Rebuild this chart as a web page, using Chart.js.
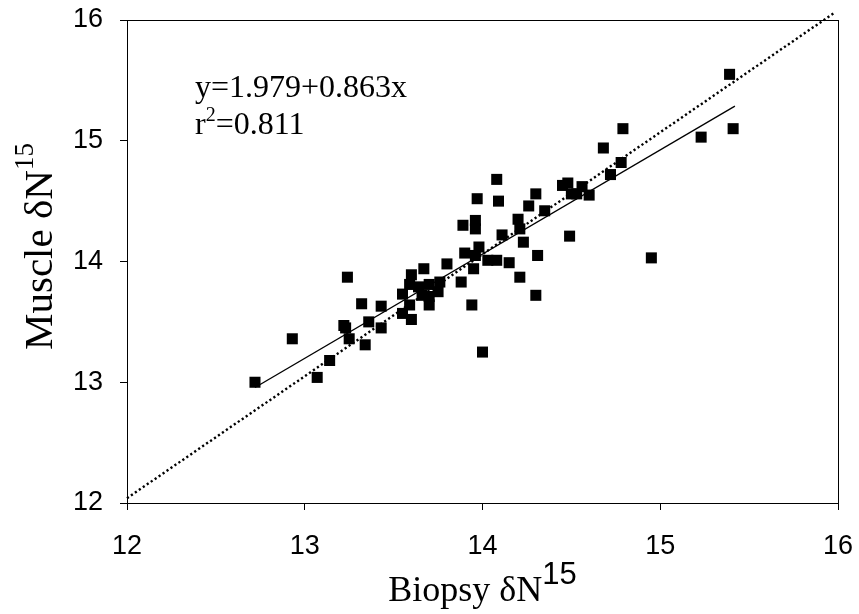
<!DOCTYPE html>
<html>
<head>
<meta charset="utf-8">
<script src="https://cdn.jsdelivr.net/npm/chart.js@4.4.1/dist/chart.umd.min.js"></script>
<style>
  html, body { margin: 0; padding: 0; background: #fff; }
  #chart { display: block; }
</style>
</head>
<body>
<canvas id="chart" width="859" height="614"></canvas>
<script>
'use strict';

// Biopsy vs muscle delta N15
var biopsy = [
  12.72, 12.93, 13.07, 13.14, 13.24, 13.22, 13.23, 13.25, 13.32, 13.36,
  13.34, 13.43, 13.43, 13.55, 13.55, 13.60, 13.60, 13.67, 13.59, 13.64,
  13.70, 13.76, 13.75, 13.70, 13.66, 13.70, 13.59, 13.80, 13.88, 13.94,
  13.89, 13.96, 13.96, 13.97, 14.08, 14.09, 13.90, 13.98, 13.96, 13.95,
  14.03, 14.08, 14.15, 14.11, 14.21, 14.23, 14.20, 14.21, 14.26, 14.30,
  14.31, 14.30, 14.35, 14.00, 14.45, 14.48, 14.50, 14.53, 14.56, 14.60,
  14.49, 14.68, 14.72, 14.78, 14.79, 15.23, 15.39, 15.41, 14.95
];
var muscle = [
  13.00, 13.36, 13.04, 13.18, 13.87, 13.47, 13.45, 13.36, 13.65, 13.50,
  13.31, 13.63, 13.45, 13.73, 13.57, 13.52, 13.89, 13.94, 13.81, 13.79,
  13.81, 13.83, 13.75, 13.71, 13.72, 13.64, 13.64, 13.98, 13.83, 13.64,
  14.30, 14.34, 14.27, 14.52, 14.68, 14.50, 14.07, 14.12, 14.05, 13.94,
  14.01, 14.01, 13.99, 14.22, 13.87, 14.16, 14.35, 14.27, 14.46, 14.56,
  14.05, 13.72, 14.42, 13.25, 14.63, 14.65, 14.56, 14.56, 14.62, 14.55,
  14.21, 14.94, 14.72, 14.82, 15.10, 15.03, 15.55, 15.10, 14.03
];

// regression y = 1.979 + 0.863x over the data range, and the 1:1 reference line
var intercept = 1.979;
var slope = 0.863;
var fitRange = [12.72, 15.42];
var oneToOne = [[12.0, 12.04], [15.98, 16.06]];
var ticks = [12, 13, 14, 15, 16];

var points = biopsy.map(function(b, i) { return {x: b, y: muscle[i]}; });
var fitLine = fitRange.map(function(x) { return {x: x, y: intercept + slope * x}; });
var refLine = oneToOne.map(function(p) { return {x: p[0], y: p[1]}; });

var serif = '"Liberation Serif", "Times New Roman", serif';
var sans = '"Liberation Sans", Arial, sans-serif';

function drawSup(ctx, x, y, base, sup, baseFont, supFont, rise) {
  ctx.font = baseFont;
  ctx.fillText(base, x, y);
  var w = ctx.measureText(base).width;
  ctx.font = supFont;
  ctx.fillText(sup, x + w, y - rise);
  return w + ctx.measureText(sup).width;
}

var decor = {
  id: 'decor',
  afterDraw: function(chart) {
    var ctx = chart.ctx;
    var a = chart.chartArea;
    ctx.save();
    // frame
    ctx.strokeStyle = '#000';
    ctx.lineWidth = 1;
    ctx.strokeRect(Math.round(a.left) + 0.5, Math.round(a.top) + 0.5,
      Math.round(a.right - a.left), Math.round(a.bottom - a.top));

    ctx.fillStyle = '#000';
    ctx.textBaseline = 'alphabetic';
    ctx.textAlign = 'left';

    // equation
    var ex = a.left + 68;
    ctx.font = '32px ' + serif;
    ctx.fillText('y=1.979+0.863x', ex, a.top + 77);
    var rw = drawSup(ctx, ex, a.top + 114, 'r', '2', '32px ' + serif, '20px ' + serif, 13);
    ctx.font = '32px ' + serif;
    ctx.fillText('=0.811', ex + rw, a.top + 114);

    // x title
    var cx = (a.left + a.right) / 2;
    ctx.font = '36px ' + serif;
    var bw = ctx.measureText('Biopsy \u03b4N').width;
    ctx.font = '31px ' + sans;
    var tw = bw + ctx.measureText('15').width;
    drawSup(ctx, cx - tw / 2, 601, 'Biopsy \u03b4N', '15', '36px ' + serif, '31px ' + sans, 17);

    // y title
    ctx.translate(52, 350);
    ctx.rotate(-Math.PI / 2);
    drawSup(ctx, 0, 0, 'Muscle \u03b4N', '15', '41px ' + serif, '27px ' + serif, 19);
    ctx.restore();
  }
};

var ctx = document.getElementById('chart').getContext('2d');
var myChart = new Chart(ctx, {
  type: 'scatter',
  data: {
    datasets: [{
      data: points,
      pointStyle: 'rect',
      pointRadius: 7.8,
      pointBorderWidth: 0,
      backgroundColor: '#000',
      borderColor: '#000',
      showLine: false,
      order: 1
    }, {
      type: 'line',
      data: fitLine,
      borderColor: '#000',
      borderWidth: 1.3,
      pointRadius: 0,
      fill: false,
      order: 2
    }, {
      type: 'line',
      data: refLine,
      borderColor: '#000',
      borderWidth: 2.4,
      borderDash: [2.2, 2.6],
      pointRadius: 0,
      fill: false,
      clip: false,
      order: 3
    }]
  },
  options: {
    responsive: false,
    animation: false,
    devicePixelRatio: 1,
    layout: { padding: { left: 0, right: 21, top: 20, bottom: 0 } },
    plugins: {
      legend: { display: false },
      tooltip: { enabled: false }
    },
    scales: {
      x: {
        type: 'linear',
        min: 12,
        max: 16,
        afterBuildTicks: function(axis) { axis.ticks = ticks.map(function(v) { return {value: v}; }); },
        afterFit: function(axis) {
          axis.height = 111;
          axis.paddingLeft = 0;
          axis.paddingRight = 0;
        },
        ticks: { color: '#000', padding: 20, font: { family: sans, size: 27 } },
        grid: { drawOnChartArea: false, tickLength: 7, color: '#000', lineWidth: 1 },
        border: { color: '#000', width: 1 }
      },
      y: {
        type: 'linear',
        min: 12,
        max: 16,
        afterBuildTicks: function(axis) { axis.ticks = ticks.map(function(v) { return {value: v}; }); },
        afterFit: function(axis) {
          axis.width = 127;
          axis.paddingTop = 0;
          axis.paddingBottom = 0;
        },
        ticks: { color: '#000', padding: 17, font: { family: sans, size: 27 } },
        grid: { drawOnChartArea: false, tickLength: 7, color: '#000', lineWidth: 1 },
        border: { color: '#000', width: 1 }
      }
    }
  },
  plugins: [decor]
});
</script>
</body>
</html>
